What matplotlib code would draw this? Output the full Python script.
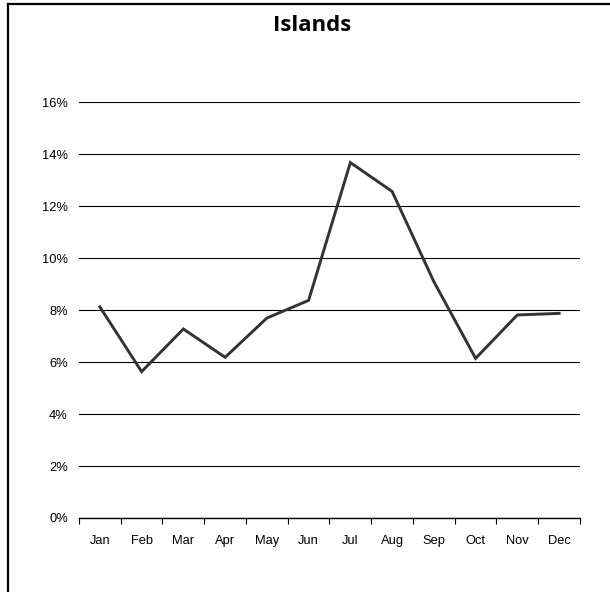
import matplotlib.pyplot as plt
import numpy as np
from matplotlib.lines import Line2D
from matplotlib.ticker import FuncFormatter

# 数据
months = ['Jan', 'Feb', 'Mar', 'Apr', 'May', 'Jun',
          'Jul', 'Aug', 'Sep', 'Oct', 'Nov', 'Dec']
share = [0.0812, 0.0563, 0.0727, 0.0618, 0.0769, 0.0837,
         0.1367, 0.1256, 0.0909, 0.0614, 0.0781, 0.0787]
yticks = [0.00, 0.02, 0.04, 0.06, 0.08, 0.10, 0.12, 0.14, 0.16]

plt.rcParams['font.family'] = ['Liberation Sans', 'DejaVu Sans']

fig = plt.figure(figsize=(6.10, 5.92), dpi=100)
ax = fig.add_axes([0.1295, 0.125, 0.8213, 0.7027])

x = np.arange(len(months))
ax.plot(x, share, color='#333333', linewidth=2.1, solid_joinstyle='miter')

# 坐标轴
ax.set_xlim(-0.5, len(months) - 0.5)
ax.set_ylim(0, 0.16)
ax.set_yticks(yticks)
ax.yaxis.set_major_formatter(FuncFormatter(lambda v, p: f'{v*100:.0f}%'))
ax.tick_params(axis='y', length=0, pad=8, labelsize=9.3)

ax.set_xticks(np.arange(-0.5, len(months), 1.0))
ax.set_xticklabels([])
ax.set_xticks(x, minor=True)
ax.set_xticklabels(months, minor=True)
ax.tick_params(axis='x', which='major', length=4, width=0.8, direction='out')
ax.tick_params(axis='x', which='minor', length=0, pad=12, labelsize=9.3)

for s in ['left', 'right', 'top']:
    ax.spines[s].set_visible(False)
ax.spines['bottom'].set_linewidth(1.0)

ax.grid(True, axis='y', color='black', linewidth=0.8)
ax.set_axisbelow(True)

# 标题
fig.text(0.512, 0.957, 'Islands', ha='center', va='center',
         fontsize=16, fontweight='bold', family=['Open Sans', 'DejaVu Sans'])

# 外框(左、上)
fig.add_artist(Line2D([7.5/610, 7.5/610], [0, 1 - 4/592], color='black',
                      linewidth=1.6, transform=fig.transFigure))
fig.add_artist(Line2D([7.5/610, 1], [1 - 4/592, 1 - 4/592], color='black',
                      linewidth=1.6, transform=fig.transFigure))

fig.savefig('out.png', dpi=100)
